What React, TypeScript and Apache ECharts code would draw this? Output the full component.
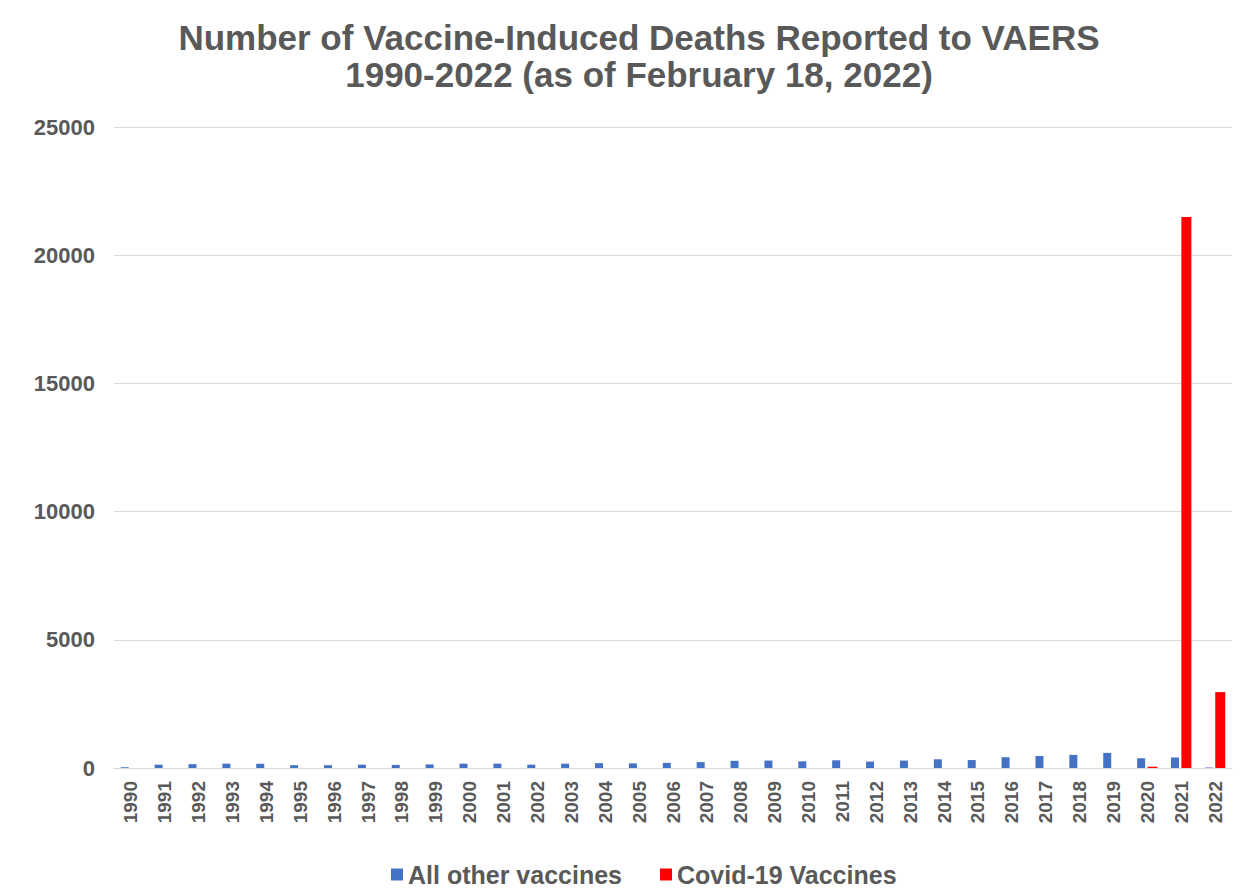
import React, { useEffect, useRef } from "react";
import * as echarts from "echarts";

const years = [
  "1990","1991","1992","1993","1994","1995","1996","1997","1998","1999",
  "2000","2001","2002","2003","2004","2005","2006","2007","2008","2009",
  "2010","2011","2012","2013","2014","2015","2016","2017","2018","2019",
  "2020","2021","2022",
];
const otherVaccines = [
  30, 130, 150, 170, 170, 110, 110, 130, 120, 140,
  170, 170, 130, 170, 190, 180, 200, 230, 280, 290,
  260, 300, 250, 290, 340, 310, 420, 470, 510, 590,
  380, 410, 20,
];
const covidVaccines = [
  0, 0, 0, 0, 0, 0, 0, 0, 0, 0,
  0, 0, 0, 0, 0, 0, 0, 0, 0, 0,
  0, 0, 0, 0, 0, 0, 0, 0, 0, 0,
  50, 21490, 2960,
];
const yTicks = [0, 5000, 10000, 15000, 20000, 25000];

export default function App() {
  const ref = useRef<HTMLDivElement>(null);
  useEffect(() => {
    if (!ref.current) return;
    const chart = echarts.init(ref.current, undefined, { renderer: "svg" });
    const textColor = "#595959";
    const font = "'Liberation Sans', Arial, sans-serif";
    chart.setOption({
      animation: false,
      backgroundColor: "#ffffff",
      title: {
        text: "Number of Vaccine-Induced Deaths Reported to VAERS\n1990-2022 (as of February 18, 2022)",
        left: 626,
        textAlign: "center",
        top: 6,
        textStyle: {
          color: textColor,
          fontFamily: font,
          fontWeight: "bold",
          fontSize: 35,
          lineHeight: 37,
        },
      },
      legend: {
        bottom: 0,
        left: 378,
        itemWidth: 12,
        itemHeight: 12,
        itemGap: 38,
        icon: "rect",
        textStyle: { color: textColor, fontFamily: font, fontWeight: "bold", fontSize: 25 },
        data: ["All other vaccines", "Covid-19 Vaccines"],
      },
      grid: { left: 106, right: 17, top: 119, bottom: 124, containLabel: false },
      xAxis: {
        type: "category",
        data: years,
        axisTick: { show: false },
        axisLine: { lineStyle: { color: "#d9d9d9" } },
        axisLabel: {
          rotate: 90,
          interval: 0,
          color: textColor,
          fontFamily: font,
          fontWeight: "bold",
          fontSize: 19,
          margin: 13,
        },
      },
      yAxis: {
        type: "value",
        min: yTicks[0],
        max: yTicks[yTicks.length - 1],
        interval: 5000,
        axisLine: { show: false },
        axisTick: { show: false },
        splitLine: { lineStyle: { color: "#d9d9d9" } },
        axisLabel: {
          color: textColor,
          fontFamily: font,
          fontWeight: "bold",
          fontSize: 22,
          margin: 19,
          formatter: (v: number) => String(v),
        },
      },
      series: [
        {
          name: "All other vaccines",
          type: "bar",
          data: otherVaccines,
          barWidth: 8,
          barGap: "30%",
          itemStyle: { color: "#4472C4" },
        },
        {
          name: "Covid-19 Vaccines",
          type: "bar",
          data: covidVaccines,
          barWidth: 10,
          itemStyle: { color: "#FF0000" },
        },
      ],
    });
    return () => chart.dispose();
  }, []);
  return <div ref={ref} style={{ width: 1241, height: 884 }} />;
}
